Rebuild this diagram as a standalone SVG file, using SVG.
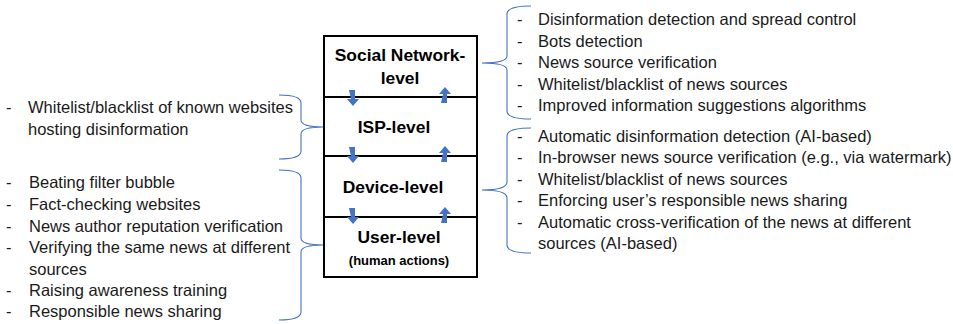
<svg xmlns="http://www.w3.org/2000/svg" width="953" height="324" viewBox="0 0 953 324">
<style>
.box{fill:#fff;stroke:#000;stroke-width:2}
.lbl{font-family:"Liberation Sans",Arial,sans-serif;font-weight:bold;font-size:17.4px;fill:#000;text-anchor:middle}
.sub{font-size:13px}
.li{font-family:"Liberation Sans",Arial,sans-serif;font-size:16.5px;fill:#1a1a1a}
.brace{fill:none;stroke:#4472C4;stroke-width:1.1}
.arr{fill:#4472C4}
</style>
<rect width="953" height="324" fill="#fff"/>
<g id="social-level">
<rect class="box" x="324" y="36" width="153" height="61"/>
<text class="lbl" x="400" y="61">Social Network-</text>
<text class="lbl" x="400" y="84">level</text>
</g>
<g id="isp-level">
<rect class="box" x="324" y="97" width="153" height="59"/>
<text class="lbl" x="394" y="133">ISP-level</text>
</g>
<g id="device-level">
<rect class="box" x="324" y="156" width="153" height="61"/>
<text class="lbl" x="393" y="193">Device-level</text>
</g>
<g id="user-level">
<rect class="box" x="324" y="217" width="153" height="60"/>
<text class="lbl" x="399" y="243">User-level</text>
<text class="lbl sub" x="399" y="265">(human actions)</text>
</g>
<g id="connectors">
<path class="arr" d="M349,90 h6 v9 h4 l-6,7 l-6,-7 h4 z"/>
<path class="arr" d="M349,147 h6 v9 h4 l-6,7 l-6,-7 h4 z"/>
<path class="arr" d="M349,208 h6 v9 h4 l-6,7 l-6,-7 h4 z"/>
<path class="arr" d="M441,103 h6 v-9 h4 l-6,-7 l-6,7 h4 z"/>
<path class="arr" d="M441,162 h6 v-9 h4 l-6,-7 l-6,7 h4 z"/>
<path class="arr" d="M441,223 h6 v-9 h4 l-6,-7 l-6,7 h4 z"/>
<path class="brace" d="M531,6 Q507,6 507,14 V56 Q507,63 482,63 Q507,63 507,70 V111 Q507,119 531,119"/>
<path class="brace" d="M531,128 Q507,128 507,136 V182 Q507,190 482,190 Q507,190 507,198 V245 Q507,253 531,253"/>
<path class="brace" d="M279,95 Q301,95 301,103 V120 Q301,127 323,127 Q301,127 301,134 V151 Q301,159 279,159"/>
<path class="brace" d="M279,170 Q301,170 301,178 V238 Q301,245 323,245 Q301,245 301,252 V312 Q301,320 279,320"/>
</g>
<g id="social-measures" class="li">
<text x="517" y="25">-</text><text x="538" y="25">Disinformation detection and spread control</text>
<text x="517" y="47">-</text><text x="538" y="47">Bots detection</text>
<text x="517" y="68">-</text><text x="538" y="68">News source verification</text>
<text x="517" y="90">-</text><text x="538" y="90">Whitelist/blacklist of news sources</text>
<text x="517" y="111">-</text><text x="538" y="111">Improved information suggestions algorithms</text>
</g>
<g id="device-measures" class="li">
<text x="517" y="142">-</text><text x="538" y="142">Automatic disinformation detection (AI-based)</text>
<text x="517" y="163">-</text><text x="538" y="163">In-browser news source verification (e.g., via watermark)</text>
<text x="517" y="185">-</text><text x="538" y="185">Whitelist/blacklist of news sources</text>
<text x="517" y="206">-</text><text x="538" y="206">Enforcing user’s responsible news sharing</text>
<text x="517" y="228">-</text><text x="538" y="228">Automatic cross-verification of the news at different</text>
<text x="538" y="249">sources (AI-based)</text>
</g>
<g id="isp-measures" class="li">
<text x="6" y="113">-</text><text x="28" y="113">Whitelist/blacklist of known websites</text>
<text x="28" y="135">hosting disinformation</text>
</g>
<g id="user-measures" class="li">
<text x="6" y="188">-</text><text x="29" y="188">Beating filter bubble</text>
<text x="6" y="210">-</text><text x="29" y="210">Fact-checking websites</text>
<text x="6" y="232">-</text><text x="29" y="232">News author reputation verification</text>
<text x="6" y="253">-</text><text x="29" y="253">Verifying the same news at different</text>
<text x="29" y="275">sources</text>
<text x="6" y="296">-</text><text x="29" y="296">Raising awareness training</text>
<text x="6" y="317">-</text><text x="29" y="317">Responsible news sharing</text>
</g>
</svg>
